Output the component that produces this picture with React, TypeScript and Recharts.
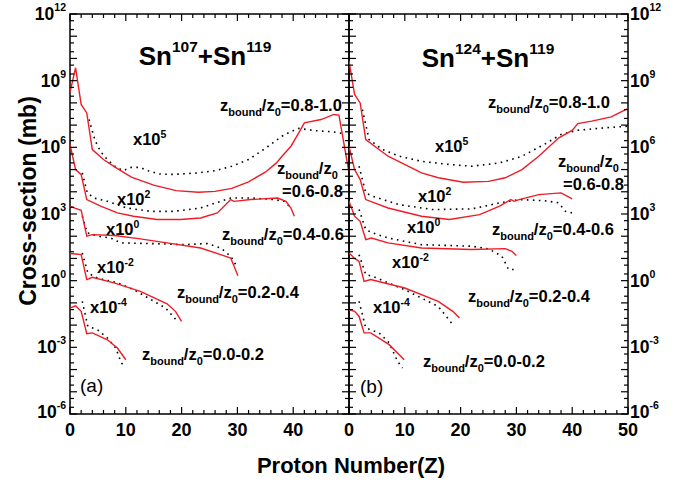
import { LineChart, Line, XAxis, YAxis, ReferenceArea } from 'recharts'

// each point is [Z, log10(cross-section in mb)]
type Pt = [number, number]

// panel (a): Sn107 + Sn119
const aRed810: Pt[] = [[0, 8.47], [1, 9.58], [2, 7.93], [3, 7.55], [4, 5.9], [6, 5.45], [8, 5.12], [11, 4.66], [15, 4.3], [19, 4.05], [23, 3.98], [26, 4.02], [29, 4.15], [32, 4.45], [35, 4.88], [37, 5.3], [38, 5.6], [39.6, 6.05], [41, 6.65], [42, 7.1], [45, 7.25], [47.3, 7.48], [48.2, 7.45], [50, 4.86]]
const aDot810: Pt[] = [[3.4, 7.25], [4.5, 6.3], [5.5, 5.8], [6.7, 5.45], [8, 5.15], [9.5, 4.95], [11, 5.1], [12.5, 5.1], [14, 4.95], [16, 4.8], [18, 4.78], [20, 4.8], [23, 4.85], [26, 4.95], [29, 5.15], [32, 5.45], [35, 5.95], [38, 6.5], [39.5, 6.7], [41, 6.85], [44, 6.75], [47, 6.7], [49, 6.62]]
const aRed68: Pt[] = [[0, 6.13], [1, 5.0], [2, 4.77], [3, 3.65], [5.5, 3.35], [8.5, 3.05], [11.4, 2.9], [15.6, 2.75], [19.8, 2.75], [23.4, 2.82], [26.4, 3.05], [28.8, 3.65], [29.4, 3.57], [32.4, 3.65], [37.2, 3.72], [38.7, 3.57], [39.6, 3.27], [40.2, 2.9]]
const aDot68: Pt[] = [[2.2, 4.85], [3.1, 3.95], [4.3, 3.72], [6.7, 3.57], [10.2, 3.27], [14.4, 3.12], [18.6, 3.12], [23.4, 3.27], [28.8, 3.72], [32.4, 3.72], [36.6, 3.65], [38.4, 3.57], [39.6, 3.27]]
const aRed46: Pt[] = [[0, 3.35], [1, 3.25], [2, 3.17], [3, 2.0], [4, 2.07], [7.9, 2.03], [12.6, 1.88], [17.4, 1.7], [23.4, 1.47], [27, 1.17], [28.8, 1.02], [30.1, 0.22]]
const aDot46: Pt[] = [[2.2, 2.9], [3.1, 2.15], [5, 2.0], [7.3, 1.92], [9.1, 1.7], [14.4, 1.67], [20.4, 1.62], [24.6, 1.67], [27, 1.47], [28.8, 1.1], [29.7, 0.72]]
const aRed24: Pt[] = [[0, 1.22], [1, 1.2], [2, 1.17], [3, 0.05], [4, 0.15], [7.9, -0.1], [12.6, -0.48], [17.4, -1.04], [18.9, -1.38], [20, -1.83]]
const aDot24: Pt[] = [[2.2, 1.25], [3.2, 0.35], [4.9, 0.12], [8.5, -0.1], [11.4, -0.4], [17.1, -1.23], [18.9, -1.73]]
const aRed02: Pt[] = [[0, -1.23], [1, -1.13], [2, -1.38], [3, -2.39], [4, -2.35], [6.7, -2.66], [8.5, -3.03], [10, -3.56]]
const aDot02: Pt[] = [[2.2, -0.93], [3.2, -2.06], [4.9, -2.2], [6.7, -2.58], [8.2, -3.03], [9.2, -3.7], [9.5, -3.78]]

// panel (b): Sn124 + Sn119
const bRed810: Pt[] = [[0, 9.88], [1, 8.38], [2, 8.0], [3, 6.35], [7, 5.6], [13, 4.85], [16, 4.63], [20.5, 4.43], [25, 4.47], [28, 4.63], [31, 5.0], [34, 5.6], [37.6, 6.43], [40, 6.76], [41, 7.07], [43.5, 7.18], [47, 7.37], [50, 7.75]]
const bDot810: Pt[] = [[2.4, 7.7], [3.6, 6.35], [6, 5.9], [9, 5.6], [13, 5.37], [18, 5.23], [22, 5.15], [27, 5.3], [31, 5.6], [35, 6.13], [38, 6.58], [41, 6.77], [46, 6.88], [50, 6.95]]
const bRed68: Pt[] = [[0, 6.05], [1, 5.0], [2, 4.55], [3, 3.65], [7, 3.27], [13, 2.9], [18, 2.75], [23.4, 2.97], [27, 3.35], [29, 3.65], [29.6, 3.57], [30.5, 3.65], [34, 3.87], [38, 3.95], [40, 3.68]]
const bDot68: Pt[] = [[1.8, 5.15], [3, 3.95], [4.2, 3.8], [9, 3.42], [15, 3.2], [22, 3.23], [27, 3.5], [30.5, 3.65], [35, 3.6], [37.6, 3.5], [38.8, 3.12], [40, 3.05]]
const bRed46: Pt[] = [[0, 3.57], [1, 2.9], [2, 2.67], [3, 1.85], [4, 1.92], [7, 1.7], [13, 1.47], [22, 1.4], [28, 1.44], [29.2, 1.32], [30, 1.13]]
const bDot46: Pt[] = [[1.8, 3.2], [3, 2.3], [4.2, 2.15], [7, 1.92], [13, 1.62], [22, 1.55], [25, 1.43], [27.4, 1.1], [28.6, 0.5], [30, 0.5]]
const bRed24: Pt[] = [[0, 1.25], [1, 1.0], [1.8, 0.87], [2.7, -0.03], [3.9, 0.05], [10, -0.33], [16, -0.93], [18.6, -1.38], [19.8, -1.68]]
const bDot24: Pt[] = [[1.8, 1.17], [3, 0.27], [4.2, 0.2], [10, -0.41], [16, -1.16], [18.6, -1.98]]
const bRed02: Pt[] = [[0, -1.31], [1, -1.38], [1.8, -1.6], [2.7, -2.35], [3.9, -2.35], [7.2, -2.88], [9.9, -3.56]]
const bDot02: Pt[] = [[1.8, -0.93], [3, -2.13], [5.4, -2.35], [7.2, -2.8], [8.7, -3.63], [9.6, -3.93]]

const zTicks = [0, 2, 4, 6, 8, 10, 12, 14, 16, 18, 20, 22, 24, 26, 28, 30, 32, 34, 36, 38, 40, 42, 44, 46, 48, 50]
const zLabelsA = [0, 10, 20, 30, 40]
const zLabelsB = [0, 10, 20, 30, 40, 50]
const decades = [-6, -5, -4, -3, -2, -1, 0, 1, 2, 3, 4, 5, 6, 7, 8, 9, 10, 11, 12]
const labelledDecades = [-6, -3, 0, 3, 6, 9, 12]

const FONT = '"Liberation Sans", Arial, Helvetica, sans-serif'
const RED = '#ee1c25'

const yTicks = decades.flatMap((d) => (d < 12 ? [10 ** d, 2 * 10 ** d, 5 * 10 ** d] : [10 ** d]))

const toRows = (pts: Pt[]) => pts.map(([z, e]) => ({ z, cs: 10 ** e }))

interface PanelProps {
  side: 'a' | 'b'
  red: Pt[][]
  dotted: Pt[][]
}

const TOP = 14
const BOTTOM = 414

function Panel({ side, red, dotted }: PanelProps) {
  const isA = side === 'a'
  const width = isA ? 359 : 350
  // plot edges in this chart's own svg coordinates
  const plotLeft = isA ? 70 : 10
  const plotRight = isA ? 349 : 289
  const zLabels = isA ? zLabelsA : zLabelsB

  const xTick = (props: any) => {
    const { x, payload } = props
    const v = payload.value as number
    const major = v % 10 === 0
    const len = major ? 7 : 4
    return (
      <g>
        <line x1={x} x2={x} y1={BOTTOM} y2={BOTTOM - len} stroke="#000" strokeWidth={1.2} />
        <line x1={x} x2={x} y1={TOP} y2={TOP + len} stroke="#000" strokeWidth={1.2} />
        {zLabels.includes(v) && (
          <text x={x} y={BOTTOM + 22} textAnchor="middle" fontSize={18} fontWeight="bold" fontFamily={FONT} fill="#000">
            {v}
          </text>
        )}
      </g>
    )
  }

  const yTick = (props: any) => {
    const { y, payload } = props
    const e = Math.log10(payload.value)
    const n = Math.round(e)
    const whole = Math.abs(e - n) < 1e-6
    const len = whole ? 7 : 4
    const label = whole && labelledDecades.includes(n)
    // the lowest label sits a little higher, as in the original figure
    const dy = n === -6 ? 4 : 6
    return (
      <g>
        <line x1={plotLeft} x2={plotLeft + len} y1={y} y2={y} stroke="#000" strokeWidth={1.2} />
        <line x1={plotRight - len} x2={plotRight} y1={y} y2={y} stroke="#000" strokeWidth={1.2} />
        {label && (
          <text
            x={isA ? plotLeft - 4 : plotRight + 2}
            y={y + dy}
            textAnchor={isA ? 'end' : 'start'}
            fontSize={17.5}
            fontWeight="bold"
            fontFamily={FONT}
            fill="#000"
          >
            10
            <tspan dy={-9} fontSize={10.5}>{n}</tspan>
          </text>
        )}
      </g>
    )
  }

  return (
    <div style={{ position: 'fixed', left: isA ? 0 : 339, top: 0 }}>
      <LineChart width={width} height={488} margin={{ top: TOP, right: isA ? 10 : 0, bottom: 44, left: isA ? 0 : 10 }}>
        <XAxis
          dataKey="z"
          type="number"
          domain={[0, 50]}
          ticks={zTicks}
          interval={0}
          allowDataOverflow
          axisLine={false}
          tickLine={false}
          tick={xTick}
          height={30}
        />
        <YAxis
          type="number"
          scale="log"
          domain={[1e-6, 1e12]}
          ticks={yTicks}
          interval={0}
          allowDataOverflow
          orientation={isA ? 'left' : 'right'}
          axisLine={false}
          tickLine={false}
          tick={yTick}
          width={isA ? 70 : 61}
        />
        <ReferenceArea x1={0} x2={50} y1={1e-6} y2={1e12} fill="none" stroke="#000" strokeWidth={1.5} ifOverflow="visible" />
        {dotted.map((pts, i) => (
          <Line
            key={`d${i}`}
            data={toRows(pts)}
            dataKey="cs"
            type="linear"
            stroke="#000"
            strokeWidth={1.6}
            strokeDasharray="1.6 4.4"
            dot={false}
            isAnimationActive={false}
          />
        ))}
        {red.map((pts, i) => (
          <Line
            key={`r${i}`}
            data={toRows(pts)}
            dataKey="cs"
            type="linear"
            stroke={RED}
            strokeWidth={1.4}
            dot={false}
            isAnimationActive={false}
          />
        ))}
      </LineChart>
    </div>
  )
}

function ZLabel({ x, y, range }: { x: number; y: number; range: string }) {
  return (
    <text x={x} y={y} fontSize={16.5} fontWeight="bold" fontFamily={FONT}>
      z<tspan dy={5} fontSize={11}>bound</tspan>
      <tspan dy={-5}>/z</tspan>
      <tspan dy={5} fontSize={11}>0</tspan>
      <tspan dy={-5}>{range}</tspan>
    </text>
  )
}

function Mult({ x, y, exp }: { x: number; y: number; exp: number }) {
  return (
    <text x={x} y={y} fontSize={16.5} fontWeight="bold" fontFamily={FONT}>
      x10<tspan dy={-7} fontSize={10.5}>{exp}</tspan>
    </text>
  )
}

function Title({ cx, y, a }: { cx: number; y: number; a: number }) {
  return (
    <text x={cx} y={y} textAnchor="middle" fontSize={26} fontWeight="bold" fontFamily={FONT}>
      Sn<tspan dy={-13} fontSize={15.5}>{a}</tspan>
      <tspan dy={13}>+Sn</tspan>
      <tspan dy={-13} fontSize={15.5}>119</tspan>
    </text>
  )
}

export default function App() {
  return (
    <div style={{ position: 'fixed', left: 0, top: 0, width: 689, height: 488, background: '#fff' }}>
      <Panel side="a" red={[aRed810, aRed68, aRed46, aRed24, aRed02]} dotted={[aDot810, aDot68, aDot46, aDot24, aDot02]} />
      <Panel side="b" red={[bRed810, bRed68, bRed46, bRed24, bRed02]} dotted={[bDot810, bDot68, bDot46, bDot24, bDot02]} />
      <svg width={689} height={488} style={{ position: 'fixed', left: 0, top: 0, pointerEvents: 'none' }}>
        <Title cx={205} y={65} a={107} />
        <Title cx={488} y={67} a={124} />

        <ZLabel x={220} y={111} range="=0.8-1.0" />
        <Mult x={133} y={145} exp={5} />
        <ZLabel x={277} y={174} range="" />
        <text x={282} y={197} fontSize={16.5} fontWeight="bold" fontFamily={FONT}>=0.6-0.8</text>
        <Mult x={117} y={205} exp={2} />
        <Mult x={106} y={235} exp={0} />
        <ZLabel x={222} y={240} range="=0.4-0.6" />
        <Mult x={97} y={273} exp={-2} />
        <ZLabel x={177} y={298} range="=0.2-0.4" />
        <Mult x={90} y={313} exp={-4} />
        <ZLabel x={142} y={360} range="=0.0-0.2" />
        <text x={80} y={392} fontSize={19} fontFamily={FONT}>(a)</text>

        <ZLabel x={488} y={108} range="=0.8-1.0" />
        <Mult x={435} y={152} exp={5} />
        <ZLabel x={558} y={167} range="" />
        <text x={563} y={190} fontSize={16.5} fontWeight="bold" fontFamily={FONT}>=0.6-0.8</text>
        <Mult x={418} y={202} exp={2} />
        <Mult x={407} y={233} exp={0} />
        <ZLabel x={492} y={235} range="=0.4-0.6" />
        <Mult x={392} y={268} exp={-2} />
        <ZLabel x={468} y={302} range="=0.2-0.4" />
        <Mult x={373} y={313} exp={-4} />
        <ZLabel x={423} y={367} range="=0.0-0.2" />
        <text x={360} y={393} fontSize={19} fontFamily={FONT}>(b)</text>

        <text x={351} y={473} textAnchor="middle" fontSize={22} fontWeight="bold" fontFamily={FONT}>
          Proton Number(Z)
        </text>
        <text
          x={28}
          y={201}
          transform="rotate(-90 28 201)"
          textAnchor="middle"
          dominantBaseline="central"
          fontSize={23}
          fontWeight="bold"
          fontFamily={FONT}
        >
          Cross-section (mb)
        </text>
      </svg>
    </div>
  )
}
